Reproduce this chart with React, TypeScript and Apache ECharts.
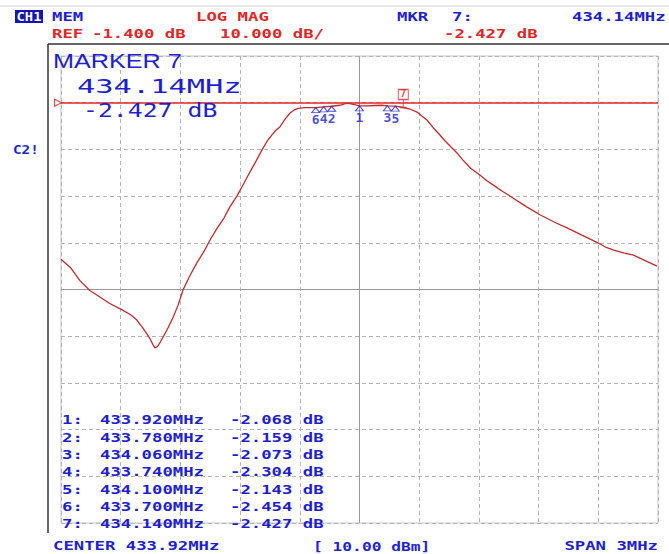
import React, { useEffect, useRef } from "react";
import * as echarts from "echarts";

const CENTER_MHZ = 433.92;
const SPAN_MHZ = 3;
const REF_DB = -1.4;
const DB_PER_DIV = 10;
const DIVISIONS = 10;
const REF_DIV_FROM_TOP = 1;

const traceFreq = [
  432.42, 432.47, 432.515, 432.565, 432.615, 432.665, 432.72, 432.77, 432.8, 432.827,
  432.85, 432.867, 432.882, 432.892, 432.905, 432.92, 432.935, 432.958, 432.983, 433.008,
  433.033, 433.068, 433.103, 433.139, 433.169, 433.204, 433.239, 433.27, 433.304, 433.34,
  433.37, 433.4, 433.43, 433.455, 433.48, 433.5, 433.52, 433.546, 433.571, 433.59,
  433.611, 433.65, 433.7, 433.74, 433.78, 433.82, 433.857, 433.89, 433.92, 433.96,
  434.0, 434.03, 434.06, 434.1, 434.14, 434.17, 434.209, 434.235, 434.259, 434.289,
  434.32, 434.35, 434.385, 434.415, 434.44, 434.48, 434.525, 434.56, 434.591, 434.64,
  434.691, 434.76, 434.827, 434.9, 434.963, 435.04, 435.118, 435.16, 435.194, 435.25,
  435.294, 435.35, 435.415,
];
const traceDb = [
  -34.9, -36.8, -39.5, -41.6, -43.0, -44.4, -45.6, -46.8, -47.9, -49.4,
  -50.8, -51.9, -53.2, -53.9, -53.6, -52.6, -51.4, -49.6, -47.4, -44.8,
  -41.5, -38.4, -35.7, -33.2, -30.8, -28.3, -26.1, -23.6, -21.4, -18.6,
  -16.2, -13.9, -11.5, -9.7, -8.3, -7.3, -6.6, -4.9, -3.6, -3.0,
  -2.6, -2.45, -2.454, -2.304, -2.159, -1.95, -1.5, -1.75, -2.068, -2.1,
  -2.0, -1.95, -2.073, -2.143, -2.427, -2.7, -3.4, -4.3, -5.1, -6.7,
  -8.1, -9.6, -11.1, -12.4, -13.7, -15.5, -16.9, -18.1, -19.0, -20.4,
  -21.8, -23.7, -25.4, -27.0, -28.2, -29.8, -31.4, -32.4, -32.9, -33.6,
  -34.0, -35.1, -36.4,
];

const markerNum = [1, 2, 3, 4, 5, 6, 7];
const markerFreq = [433.92, 433.78, 434.06, 433.74, 434.1, 433.7, 434.14];
const markerDb = [-2.068, -2.159, -2.073, -2.304, -2.143, -2.454, -2.427];
const ACTIVE_MARKER = 7;

const BLUE = "#1e1ed2";
const RED = "#e02626";
const TRACE = "#c42a2c";
const MONO = '"DejaVu Sans Mono", monospace';
const SMALL = `bold 13px ${MONO}`;
const SX = 1.33;

function txt(text: string, x: number, y: number, fill: string, opts: any = {}) {
  const align = opts.align || "left";
  return {
    type: "text",
    x,
    y,
    scaleX: opts.scaleX ?? SX,
    z: 100,
    silent: true,
    style: {
      text,
      font: opts.font || SMALL,
      fill,
      align,
      verticalAlign: "middle",
      textAlign: align,
      textVerticalAlign: "middle",
    },
  };
}

export default function App() {
  const ref = useRef<HTMLDivElement>(null);
  useEffect(() => {
    if (!ref.current) return;
    const chart = echarts.init(ref.current, undefined, { renderer: "svg" });
    const rel = (f: number, d: number) => [f - CENTER_MHZ, d - REF_DB];
    const xMin = -SPAN_MHZ / 2;
    const xMax = SPAN_MHZ / 2;
    const yMax = REF_DIV_FROM_TOP * DB_PER_DIV;
    const yMin = yMax - DIVISIONS * DB_PER_DIV;
    const yCenter = yMin + (DIVISIONS / 2) * DB_PER_DIV;

    const traceData = traceFreq.map((f, i) => rel(f, traceDb[i]));
    const passive = markerNum
      .map((n, i) => ({ n, i }))
      .filter((m) => m.n !== ACTIVE_MARKER)
      .map(({ n, i }) => [...rel(markerFreq[i], markerDb[i]), n]);
    const activeIdx = markerNum.indexOf(ACTIVE_MARKER);
    const active = [[...rel(markerFreq[activeIdx], markerDb[activeIdx]), ACTIVE_MARKER]];

    const graphics: any[] = [
      { type: "line", shape: { x1: 0, y1: 6, x2: 669, y2: 6 }, style: { stroke: "#cfcfcf", lineWidth: 1 }, silent: true },
      { type: "line", shape: { x1: 48, y1: 44, x2: 669, y2: 44 }, style: { stroke: "#333", lineWidth: 1.5 }, silent: true },
      { type: "line", shape: { x1: 48, y1: 44, x2: 48, y2: 533 }, style: { stroke: "#333", lineWidth: 1.5 }, silent: true },
      { type: "rect", shape: { x: 15, y: 10, width: 28, height: 13 }, style: { fill: "#1414b4" }, silent: true },
      txt("CH1", 29, 16.7, "#ffffff", { align: "center", scaleX: 1.15, font: `bold 12px ${MONO}` }),
      txt("MEM", 52, 16.7, BLUE),
      txt("LOG MAG", 196, 16.7, RED),
      txt("MKR", 397, 16.7, BLUE),
      txt(`${ACTIVE_MARKER}:`, 452, 16.7, BLUE),
      txt(`${markerFreq[activeIdx].toFixed(2)}MHz`, 572, 16.7, BLUE),
      txt("REF", 52, 33.5, RED),
      txt(`${REF_DB.toFixed(3)} dB`, 92, 33.5, RED),
      txt(`${DB_PER_DIV.toFixed(3)} dB/`, 220, 33.5, RED),
      txt(`${markerDb[activeIdx].toFixed(3)} dB`, 444, 33.5, RED),
      txt("C2!", 13, 149, BLUE, { scaleX: 1.1 }),
      txt(`MARKER ${ACTIVE_MARKER}`, 53, 61, BLUE, { font: `21px "Liberation Sans", Arial, sans-serif`, scaleX: 1.2 }),
      txt(`${markerFreq[activeIdx].toFixed(2)}MHz`, 77, 86, BLUE, { font: `20px ${MONO}`, scaleX: 1.52 }),
      txt(`${markerDb[activeIdx].toFixed(3)} dB`, 83, 110, BLUE, { font: `20px ${MONO}`, scaleX: 1.24 }),
      txt(`CENTER ${CENTER_MHZ.toFixed(2)}MHz`, 53, 546, BLUE),
      txt("[ 10.00 dBm]", 313, 546, BLUE, { scaleX: 1.25 }),
      txt(`SPAN ${SPAN_MHZ}MHz`, 658, 546, BLUE, { align: "right" }),
    ];
    markerNum.forEach((n, i) => {
      const y = 420 + i * 17.33;
      graphics.push(txt(`${n}:`, 62, y, BLUE));
      graphics.push(txt(`${markerFreq[i].toFixed(3)}MHz`, 100, y, BLUE));
      graphics.push(txt(`${markerDb[i].toFixed(3)} dB`, 230, y, BLUE));
    });

    chart.setOption({
      animation: false,
      backgroundColor: "#ffffff",
      grid: { left: 61, top: 56, width: 597, height: 467, show: true, borderColor: "#c4c4c4", borderWidth: 1 },
      xAxis: {
        type: "value",
        min: xMin,
        max: xMax,
        interval: SPAN_MHZ / DIVISIONS,
        axisLine: { show: false },
        axisTick: { show: false },
        axisLabel: { show: false },
        splitLine: { show: true, lineStyle: { color: "#b4b4b4", type: [4, 3], width: 1 } },
      },
      yAxis: {
        type: "value",
        min: yMin,
        max: yMax,
        interval: DB_PER_DIV,
        axisLine: { show: false },
        axisTick: { show: false },
        axisLabel: { show: false },
        splitLine: { show: true, lineStyle: { color: "#b4b4b4", type: [4, 3], width: 1 } },
      },
      series: [
        {
          type: "line",
          data: traceData,
          showSymbol: false,
          symbol: "none",
          z: 3,
          lineStyle: { color: TRACE, width: 1.3 },
          markLine: {
            silent: true,
            symbol: "none",
            label: { show: false },
            lineStyle: { color: "#9a9a9a", type: "solid", width: 1 },
            data: [{ xAxis: 0 }, { yAxis: yCenter }],
            z: 1,
          },
        },
        {
          type: "scatter",
          data: [[xMin, 0]],
          symbol: "triangle",
          symbolRotate: -90,
          symbolSize: [7, 7],
          symbolOffset: [-3, 0],
          z: 4,
          itemStyle: { color: "#ffffff", borderColor: RED, borderWidth: 1.2 },
          markLine: {
            silent: true,
            symbol: "none",
            label: { show: false },
            lineStyle: { color: RED, type: "solid", width: 1.5 },
            data: [{ yAxis: 0 }],
          },
        },
        {
          type: "scatter",
          data: passive,
          symbol: "path://M4,0 L8,6 L0,6 Z",
          symbolSize: [8, 5],
          symbolOffset: [0, "50%"],
          z: 5,
          itemStyle: { color: "rgba(255,255,255,0)", borderColor: BLUE, borderWidth: 1 },
          label: {
            show: true,
            position: "bottom",
            distance: 0,
            formatter: (p: any) => String(p.value[2]),
            color: BLUE,
            fontFamily: MONO,
            fontWeight: "bold",
            fontSize: 13,
          },
        },
        {
          type: "scatter",
          data: active,
          symbol: "path://M0,0 L10,0 L10,10 L0,10 Z M5,10 L5,18 M2,18 L8,18",
          symbolSize: [10, 18],
          symbolOffset: [0, -9],
          symbolKeepAspect: false,
          z: 6,
          itemStyle: { color: "rgba(255,255,255,0)", borderColor: RED, borderWidth: 1.2 },
          label: {
            show: true,
            position: "inside",
            offset: [0, -5],
            formatter: (p: any) => String(p.value[2]),
            color: RED,
            fontFamily: MONO,
            fontWeight: "bold",
            fontSize: 10,
          },
        },
      ],
      graphic: { elements: graphics },
    });
    return () => chart.dispose();
  }, []);
  return (
    <div
      ref={ref}
      style={{ position: "absolute", left: 0, top: 0, width: 669, height: 554, background: "#fff" }}
    />
  );
}
